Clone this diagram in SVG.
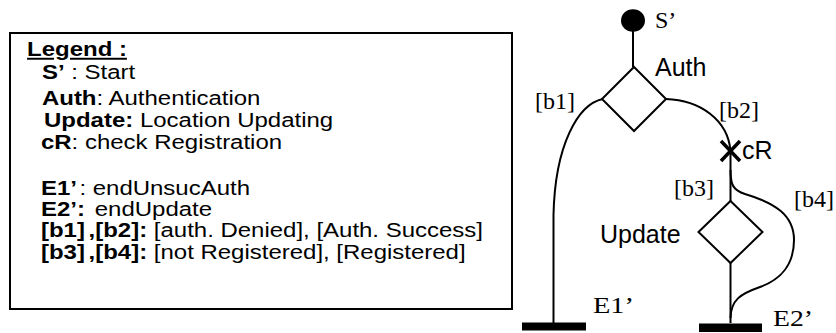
<svg xmlns="http://www.w3.org/2000/svg" width="836" height="333" viewBox="0 0 836 333">
<style>
.lg{font-family:"Liberation Sans",Arial,sans-serif;font-size:19.5px;fill:#000}
.b{font-weight:bold}
.sf{font-family:"Liberation Serif","Times New Roman",serif;font-size:24px;fill:#000}
.ss{font-family:"Liberation Sans",Arial,sans-serif;font-size:25px;fill:#000}
.ln{fill:none;stroke:#000;stroke-width:2}
.nd{fill:#fff;stroke:#000;stroke-width:2}
</style>
<rect width="836" height="333" fill="#fff"/>
<g id="legend">
<rect x="10" y="33" width="502" height="276" fill="#fff" stroke="#000" stroke-width="2"/>
<g transform="scale(1.23 1)">
<text class="lg b" x="22" y="56" text-decoration="underline">Legend :</text>
<text class="lg" x="34.1" y="79"><tspan class="b">S’</tspan> : Start</text>
<text class="lg" x="34.1" y="105"><tspan class="b">Auth</tspan>: Authentication</text>
<text class="lg" x="35.8" y="127"><tspan class="b">Update:</tspan> Location Updating</text>
<text class="lg" x="33.3" y="149"><tspan class="b">cR</tspan>: check Registration</text>
<text class="lg" x="33.3" y="195"><tspan class="b">E1’</tspan><tspan dx="2">: endUnsucAuth</tspan></text>
<text class="lg" x="33.3" y="216"><tspan class="b">E2’:</tspan><tspan dx="8">endUpdate</tspan></text>
<text class="lg" x="33.3" y="237"><tspan class="b">[b1]</tspan><tspan class="b" dx="3">,[b2]:</tspan> [auth. Denied], [Auth. Success]</text>
<text class="lg" x="33.3" y="259"><tspan class="b">[b3]</tspan><tspan class="b" dx="3">,[b4]:</tspan> [not Registered], [Registered]</text>
</g>
</g>
<g id="connectors">
<path class="ln" d="M633,31 V67"/>
<path class="ln" d="M603,99 C578,104 555,145 553.5,215 V323"/>
<path class="ln" d="M666,99 C700,100 728,120 730.5,151 V201"/>
<path class="ln" d="M730.5,263 V323"/>
<path class="ln" d="M730.5,170 C730.5,185 733,190 745,194 C775,203 794,215 794,240 C794,265 780,280 760,287 C740,294 731,300 730.5,318"/>
</g>
<g id="start">
<ellipse cx="633" cy="20.5" rx="12" ry="11.3" fill="#000"/>
<text class="sf" x="655" y="28">S’</text>
</g>
<g id="auth">
<path class="nd" d="M634,67 L666,99 L634,131 L602,99 Z"/>
<text class="ss" x="655" y="76">Auth</text>
</g>
<g id="cR">
<path d="M721,141 L740,161 M740,141 L721,161" stroke="#000" stroke-width="3.5" fill="none"/>
<text class="ss" x="742" y="159">cR</text>
</g>
<g id="update">
<path class="nd" d="M730.5,201 L762.5,232 L730.5,263 L698.5,232 Z"/>
<text class="ss" x="600" y="243">Update</text>
</g>
<g id="e1">
<rect x="522" y="322.5" width="64" height="8" fill="#000"/>
<text class="sf" x="593" y="313" textLength="41" lengthAdjust="spacingAndGlyphs">E1’</text>
</g>
<g id="e2">
<rect x="699" y="323.5" width="63" height="8.5" fill="#000"/>
<text class="sf" x="773" y="326" textLength="40" lengthAdjust="spacingAndGlyphs">E2’</text>
</g>
<g id="guards">
<text class="sf" x="535" y="109">[b1]</text>
<text class="sf" x="719" y="118">[b2]</text>
<text class="sf" x="674" y="196">[b3]</text>
<text class="sf" x="794" y="207">[b4]</text>
</g>
</svg>
